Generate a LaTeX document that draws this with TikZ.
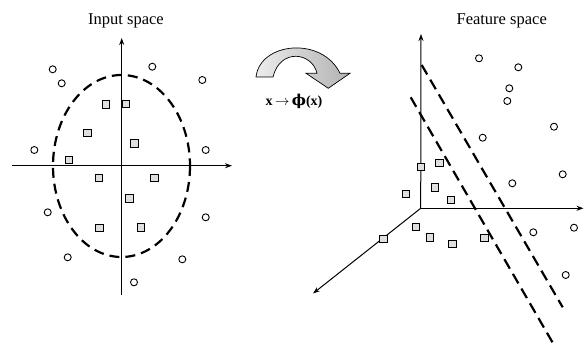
\documentclass[tikz,border=0pt]{standalone}
\usepackage{amsmath}
\usepackage{fontspec}
\setmainfont{Liberation Serif}
\newfontfamily\phifont{DejaVu Serif}
\usetikzlibrary{arrows.meta}

\begin{document}
\begin{tikzpicture}[x=1pt,y=-1pt,
  sq/.style={draw=black, fill=gray!25, line width=0.9pt, rectangle, minimum size=7.3pt, inner sep=0pt},
  ci/.style={draw=black, fill=white, line width=0.9pt, circle, minimum size=7pt, inner sep=0pt},
  axis/.style={line width=1pt, -{Stealth[length=7pt,width=5pt]}},
  sepline/.style={line width=2.2pt, dash pattern=on 10pt off 6pt},
  title/.style={font=\fontsize{16.5}{18}\selectfont, inner sep=0pt}]

\useasboundingbox (0,0) rectangle (584,345);

% ---------- titles ----------
\node[title] (t-in) at (126,20.8) {Input space};
\node[title] (t-feat) at (501.7,20.8) {Feature space};

% ---------- mapping arrow ----------
\shade[left color=gray!15, right color=gray!60, draw=black, line width=0.7pt]
  (256,77) .. controls (260,42) and (322,36) .. (340,73.3)
  -- (350,73.3) -- (328.3,88.3) -- (306,73.3) -- (317,73.3)
  .. controls (312,52) and (280,48) .. (273,77) -- cycle;
\node[font=\fontsize{14}{16}\selectfont\bfseries, inner sep=0pt] (map) at (294,101)
  {x$\,\rightarrow\,${\phifont\fontsize{15}{16}\selectfont ϕ}(x)};

% ---------- input space ----------
\coordinate (lo) at (121.7,165.7);
\coordinate (ltop) at (121.7,38);
\coordinate (lbot) at (121.7,295);
\coordinate (lleft) at (12,165.7);
\coordinate (lright) at (232,165.7);
\draw[axis] (lbot) -- (ltop);
\draw[axis] (lleft) -- (lright);
\draw[sepline] (121.5,166) ellipse [x radius=68.5, y radius=91];

\foreach \n/\p in {c1/{(52.7,69.3)}, c2/{(61.7,83.3)}, c3/{(152.3,66.7)}, c4/{(202.3,80)},
  c5/{(34.3,150)}, c6/{(205.7,150)}, c7/{(47.7,212.3)}, c8/{(205.7,217.3)},
  c9/{(67.7,257.3)}, c10/{(182.3,259.3)}, c11/{(134,282.3)}}
  \node[ci] (l-\n) at \p {};
\foreach \n/\p in {s1/{(106,104.3)}, s2/{(125.7,103.7)}, s3/{(87.3,132.7)}, s4/{(134.3,143.3)},
  s5/{(69,160)}, s6/{(99,177.7)}, s7/{(154.3,177.7)}, s8/{(129.3,198.3)},
  s9/{(99.3,227.7)}, s10/{(141,227.3)}}
  \node[sq] (l-\n) at \p {};

% ---------- feature space ----------
\coordinate (ro) at (420.7,208.3);
\coordinate (rtop) at (421,34);
\coordinate (rright) at (583.5,208.3);
\coordinate (rdiag) at (313,293.5);
\draw[axis] (ro) -- (rtop);
\draw[axis] (ro) -- (rright);
\draw[axis] (ro) -- (rdiag);

\coordinate (h1a) at (421.7,65);
\coordinate (h1b) at (562.7,307.3);
\coordinate (h2a) at (410.7,97.3);
\coordinate (h2b) at (552.7,342.7);
\draw[sepline, dash pattern=on 11pt off 6pt] (h1a) -- (h1b);
\draw[sepline, dash pattern=on 11pt off 6pt] (h2a) -- (h2b);

\foreach \n/\p in {c1/{(479,58.3)}, c2/{(518.3,67.3)}, c3/{(509.3,88.3)}, c4/{(507.3,101)},
  c5/{(554,126.7)}, c6/{(482.7,137.7)}, c7/{(562.7,174.3)}, c8/{(512.3,183.3)},
  c9/{(533.3,232.3)}, c10/{(574,227.7)}, c11/{(565.7,275)}}
  \node[ci] (r-\n) at \p {};
\foreach \n/\p in {s1/{(420.7,166.7)}, s2/{(439.3,162.7)}, s3/{(435,187.3)}, s4/{(406,194)},
  s5/{(450.7,200)}, s6/{(415.7,226.7)}, s7/{(430,237.3)}, s8/{(452.3,244)},
  s9/{(484.3,238)}, s10/{(383.3,239)}}
  \node[sq] (r-\n) at \p {};
\end{tikzpicture}
\end{document}
